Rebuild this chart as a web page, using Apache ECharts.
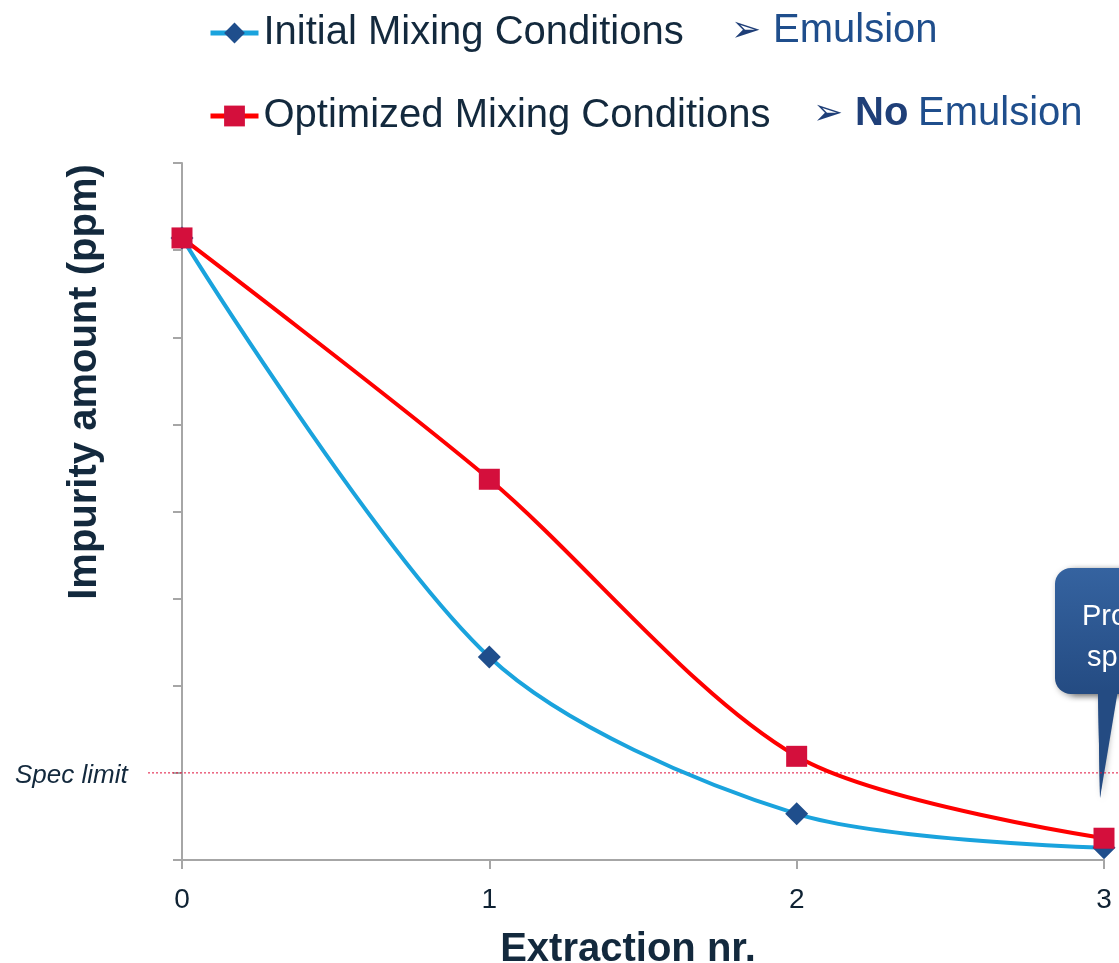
<!DOCTYPE html>
<html><head><meta charset="utf-8">
<script src="https://cdn.jsdelivr.net/npm/echarts@6/dist/echarts.min.js"></script>
<style>html,body{margin:0;padding:0;background:#fff}#c{width:1119px;height:963px}</style>
</head><body><div id="c"></div>
<script>
const extractions = [0, 1, 2, 3];
const initialMixing = [7.14, 2.33, 0.53, 0.14];
const optimizedMixing = [7.14, 4.37, 1.19, 0.25];
const specLimit = 1.0;
const xTicks = [0, 1, 2, 3];
const seriesNames = ['Initial Mixing Conditions', 'Optimized Mixing Conditions'];

const chart = echarts.init(document.getElementById('c'));
const FONT = 'Liberation Sans, Arial, sans-serif';
chart.setOption({
  animation: false,
  grid: { left: 182, right: 15, top: 163, bottom: 103, containLabel: false, outerBoundsMode: 'none' },
  legend: {
    orient: 'vertical', left: 208, top: 13, itemGap: 43, padding: 0,
    itemWidth: 48, itemHeight: 26,
    lineStyle: { width: 5 },
    textStyle: { fontFamily: FONT, fontSize: 40, color: '#13293d' },
    data: seriesNames
  },
  xAxis: {
    type: 'value', min: 0, max: 3, interval: 1,
    axisLine: { lineStyle: { color: '#a6a6a6', width: 2 } },
    axisTick: { show: true, length: 9, lineStyle: { color: '#a6a6a6', width: 2 } },
    axisLabel: { fontFamily: FONT, fontSize: 28, color: '#0f2233', margin: 26,
      formatter: v => xTicks.includes(v) ? String(v) : '' },
    splitLine: { show: false },
    name: 'Extraction nr.', nameLocation: 'middle', nameGap: 70,
    nameTextStyle: { fontFamily: FONT, fontSize: 40, fontWeight: 'bold', color: '#13293d', padding: [0, 30, 0, 0], verticalAlign: 'top' }
  },
  yAxis: {
    type: 'value', min: 0, max: 8, interval: 1,
    axisLine: { show: true, lineStyle: { color: '#a6a6a6', width: 2 } },
    axisTick: { show: true, length: 9, lineStyle: { color: '#a6a6a6', width: 2 } },
    axisLabel: { show: false },
    splitLine: { show: false }
  },
  series: [
    {
      name: seriesNames[0], type: 'line', data: extractions.map((x, i) => [x, initialMixing[i]]),
      smooth: 0.3, symbol: 'diamond', symbolSize: 23, z: 3,
      lineStyle: { color: '#1aa3dd', width: 4 },
      itemStyle: { color: '#1f4e8c' }
    },
    {
      name: seriesNames[1], type: 'line', data: extractions.map((x, i) => [x, optimizedMixing[i]]),
      smooth: 0.3, symbol: 'rect', symbolSize: 21, z: 4,
      lineStyle: { color: '#ff0000', width: 4 },
      itemStyle: { color: '#d40f3c' }
    }
  ]
});

const ySpec = chart.convertToPixel({ yAxisIndex: 0 }, specLimit);
chart.setOption({
  graphic: [
    { type: 'line', shape: { x1: 148, y1: ySpec, x2: 1119, y2: ySpec }, z: 1,
      style: { stroke: '#e0103c', lineWidth: 1, lineDash: [2, 2] } },
    { type: 'text', x: 15, y: ySpec + 3,
      style: { text: 'Spec limit', fontFamily: FONT, fontSize: 26, fontStyle: 'italic', fill: '#13293d', verticalAlign: 'middle' } },
    { type: 'text', x: 85, y: 382, rotation: Math.PI / 2,
      style: { text: 'Impurity amount (ppm)', fontFamily: FONT, fontSize: 40, fontWeight: 'bold', fill: '#13293d',
        align: 'center', verticalAlign: 'middle' } },
    { type: 'text', x: 731, y: 32,
      style: { text: '➢', fontFamily: 'DejaVu Sans', fontSize: 36, fill: '#1f3f78', verticalAlign: 'middle' } },
    { type: 'text', x: 773, y: 31,
      style: { text: 'Emulsion', fontFamily: FONT, fontSize: 40, fill: '#1f4e8c', verticalAlign: 'middle' } },
    { type: 'text', x: 813, y: 115,
      style: { text: '➢', fontFamily: 'DejaVu Sans', fontSize: 36, fill: '#1f3f78', verticalAlign: 'middle' } },
    { type: 'text', x: 855, y: 114,
      style: { text: 'No', fontFamily: FONT, fontSize: 40, fontWeight: 'bold', fill: '#1f3f78', verticalAlign: 'middle' } },
    { type: 'text', x: 918, y: 114,
      style: { text: 'Emulsion', fontFamily: FONT, fontSize: 40, fill: '#1f4e8c', verticalAlign: 'middle' } },
    { type: 'group', z: 10, children: [
      { type: 'polygon', shape: { points: [[1070, 568], [1140, 568], [1140, 694], [1112, 694], [1100, 798], [1098, 694], [1070, 694]] },
        style: { fill: '#28528c', shadowBlur: 6, shadowColor: 'rgba(0,0,0,0.35)', shadowOffsetX: 2, shadowOffsetY: 2 } },
      { type: 'rect', shape: { x: 1055, y: 568, width: 100, height: 126, r: 16 },
        style: { fill: new echarts.graphic.LinearGradient(0, 0, 0, 1, [{ offset: 0, color: '#3563a0' }, { offset: 1, color: '#244b82' }]),
          shadowBlur: 6, shadowColor: 'rgba(0,0,0,0.35)', shadowOffsetX: 2, shadowOffsetY: 2 } },
      { type: 'polygon', shape: { points: [[1098, 690], [1118, 690], [1100, 798]] }, style: { fill: '#244b82' } },
      { type: 'text', x: 1082, y: 617, style: { text: 'Product in', fontFamily: FONT, fontSize: 29, fill: '#ffffff', verticalAlign: 'middle' } },
      { type: 'text', x: 1087, y: 658, style: { text: 'spec', fontFamily: FONT, fontSize: 29, fill: '#ffffff', verticalAlign: 'middle' } }
    ]}
  ]
});
</script></body></html>
